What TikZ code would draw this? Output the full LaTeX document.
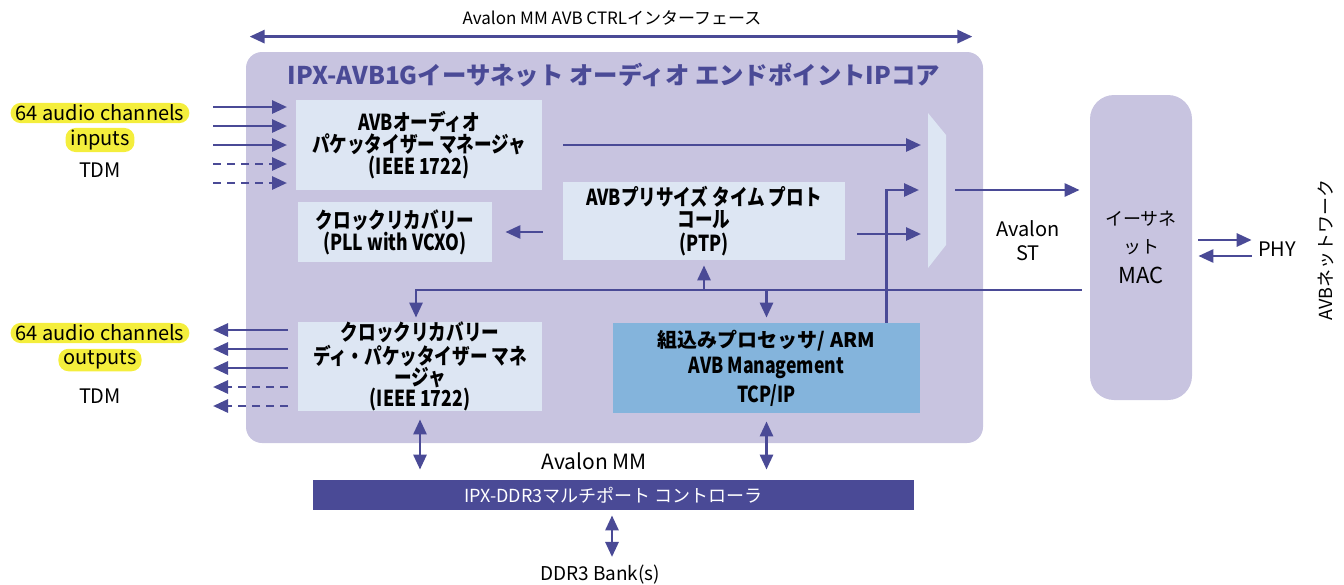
\documentclass[tikz,border=0pt]{standalone}
\usepackage{fontspec}
\setmainfont{Noto Sans CJK JP}
\newfontfamily\boxfont{Noto Sans CJK JP}[FakeStretch=0.8]
\newfontfamily\titlefont{Noto Sans CJK JP}
\usetikzlibrary{arrows.meta}
\usetikzlibrary{positioning}
\tikzset{>={Triangle[length=7.5pt,width=6.5pt]}}
\definecolor{avbline}{HTML}{4A4A96}
\definecolor{corebg}{HTML}{C8C4E0}
\definecolor{blockbg}{HTML}{DDE6F3}
\definecolor{armbg}{HTML}{84B4DC}
\definecolor{hilite}{HTML}{F4EE3C}
\tikzset{
  blk/.style={fill=blockbg, inner sep=0pt, align=center,
    font=\boxfont\bfseries\fontsize{11}{11}\selectfont},
  bus/.style={draw=avbline, line width=1.4pt},
  dsh/.style={dash pattern=on 4pt off 3pt},
  lbl/.style={inner sep=1pt, align=center, font=\fontsize{10}{12}\selectfont},
  hl/.style={lbl, fill=hilite, rounded corners=5pt, inner xsep=2.5pt},
}

\begin{document}
\begin{tikzpicture}[x=0.5pt, y=-0.5pt]
\useasboundingbox (0,0) rectangle (1344,584);

% IPコア
\node[fill=corebg, rounded corners=8pt, minimum width=368.5pt, minimum height=195.5pt] (core) at (614.5,247.5) {};
\node[text=avbline, font=\titlefont\bfseries\fontsize{12.2}{14}\selectfont] (title) at (614,75)
  {IPX-AVB1Gイーサネット オーディオ エンドポイントIPコア};
\node[lbl, font=\fontsize{8.5}{10}\selectfont] (ctrl) at (612,18) {Avalon MM AVB CTRLインターフェース};
\draw[bus,<->] ([xshift=2pt,yshift=7.5pt]core.north west) -- ([xshift=-5.5pt,yshift=7.5pt]core.north east);

% blocks
\node[blk, minimum width=123pt, minimum height=45pt] (pkt) at (419,145)
  {AVBオーディオ\\パケッタイザー マネージャ\\(IEEE 1722)};
\node[blk, minimum width=97pt, minimum height=30pt] (clk) at (395,232)
  {クロックリカバリー\\(PLL with VCXO)};
\node[blk, minimum width=141pt, minimum height=39pt] (ptp) at (704,221)
  {AVBプリサイズ タイム プロト\\コール\\[1pt](PTP)};
\node[blk, minimum width=122pt, minimum height=44.5pt, font=\boxfont\bfseries\fontsize{11}{10.5}\selectfont] (depkt) at (420,366.5)
  {クロックリカバリー\\ディ・パケッタイザー マネ\\ージャ\\(IEEE 1722)};
\node[blk, fill=armbg, minimum width=153.5pt, minimum height=45pt] (arm) at (766.5,368)
  {{\titlefont\bfseries\fontsize{10}{12}\selectfont 組込みプロセッサ/ ARM}\\[2pt]AVB Management\\[2pt]TCP/IP};

% MUX
\fill[blockbg] (928,113) -- (946,135) -- (946,245) -- (928,268) -- cycle;
\coordinate (mux1) at (921,145);
\coordinate (mux2) at (921,190);
\coordinate (mux3) at (921,234);
\coordinate (muxout) at (955,190);

% MAC, DDR
\node[fill=corebg, rounded corners=12pt, minimum width=51pt, minimum height=152.5pt] (mac) at (1141,247.5) {};
\node[lbl, font=\fontsize{9}{14}\selectfont] (mactxt) at (1141,247) {イーサネ\\ット\\[1pt]{\fontsize{11}{12}\selectfont MAC}};
\node[fill=avbline, text=white, inner sep=0pt, minimum width=300.5pt, minimum height=15pt,
  font=\fontsize{9}{11}\selectfont] (ddr) at (613.5,495) {IPX-DDR3マルチポート コントローラ};
\node[lbl, font=\fontsize{9.5}{12}\selectfont] (bank) at (600,575) {DDR3 Bank(s)};
\node[lbl, font=\fontsize{10.5}{12}\selectfont] (mm) at (594,461) {Avalon MM};
\node[lbl] (st) at (1028,241) {Avalon\\ST};
\node[lbl] (phy) at (1277,249) {PHY};
\node[lbl, font=\fontsize{9}{11}\selectfont, rotate=90] (net) at (1326,250) {AVBネットワーク};

% inputs / outputs
\node[hl] (inA) at (100,113) {64 audio channels};
\node[hl] (inB) at (100,140) {inputs};
\node[lbl] (inC) at (100,170) {TDM};
\node[hl] (outA) at (100,333) {64 audio channels};
\node[hl] (outB) at (100,360) {outputs};
\node[lbl] (outC) at (100,396) {TDM};
\foreach \i/\y/\s in {1/107/solid,2/126/solid,3/145/solid,4/164/dsh,5/183/dsh}{
  \coordinate (inL\i) at (213,\y);
  \coordinate (inR\i) at (287,\y);
  \draw[bus,->,\s] (inL\i) -- (inR\i);
}
\foreach \i/\y/\s in {1/330/solid,2/349/solid,3/368/solid,4/387/dsh,5/406/dsh}{
  \coordinate (outL\i) at (213,\y);
  \coordinate (outR\i) at (288,\y);
  \draw[bus,->,\s] (outR\i) -- (outL\i);
}

% connectors
\coordinate (busY) at (0,290);
\draw[bus,->,shorten <=10.5pt] (pkt.east) -- (mux1);
\draw[bus,->,shorten <=10pt,shorten >=6.5pt] (ptp.west |- clk.east) -- (clk.east);
\draw[bus,->,shorten <=6pt] (ptp.east |- mux3) -- (mux3);
\draw[bus,->] ([xshift=-17pt]arm.north east) |- ([xshift=-1pt]mux2);
\draw[bus,->,shorten >=5pt] (muxout) -- (mac.west |- muxout);
\draw[bus,->,shorten >=2pt] ([xshift=-4pt]mac.west |- busY) -| ([xshift=-2pt]depkt.north);
\draw[bus,->,shorten >=2.5pt] (ptp.south |- busY) -- (ptp.south);
\draw[bus,->,shorten >=2.5pt] (arm.north |- busY) -- (arm.north);
\draw[bus,<->,shorten <=4pt,shorten >=5pt] (depkt.south) -- (depkt.south |- ddr.north);
\draw[bus,<->,shorten <=4pt,shorten >=5pt] (arm.south) -- (arm.south |- ddr.north);
\draw[bus,<->,shorten <=2.5pt,shorten >=3pt] (ddr.south -| 612,0) -- (bank.north -| 612,0);
\coordinate (phyA) at (0,240);
\coordinate (phyB) at (0,256);
\draw[bus,->,shorten <=3pt,shorten >=2pt] (mac.east |- phyA) -- (phy.west |- phyA);
\draw[bus,->,shorten <=2pt,shorten >=3pt] (phy.west |- phyB) -- (mac.east |- phyB);
\end{tikzpicture}
\end{document}
